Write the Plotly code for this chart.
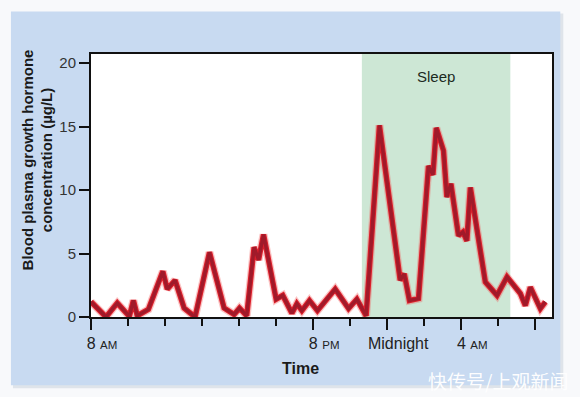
import plotly.graph_objects as go

# ---- data ----
hours_after_8am = [0, 0.81, 1.42, 2.07, 2.29, 2.5, 3.1, 3.88, 4.12, 4.54, 5.03, 5.62, 6.4, 7.19,
                   7.73, 8.02, 8.41, 8.81, 9.05, 9.32, 10.0, 10.36, 10.85, 11.12, 11.39, 11.8,
                   12.23, 13.19, 13.91, 14.36, 14.86, 15.58, 16.7, 16.92, 17.2, 17.69, 18.23,
                   18.47, 18.65, 19.04, 19.22, 19.44, 19.85, 20.09, 20.3, 20.49, 21.3, 21.93,
                   22.47, 23.19, 23.46, 23.73, 24.27, 24.54]
gh_conc = [1.2, 0, 1.1, 0.05, 1.3, 0.1, 0.6, 3.6, 2.2, 2.9, 0.7, 0, 5.1, 0.7,
           0.2, 0.7, 0.1, 5.5, 4.5, 6.5, 1.4, 1.7, 0.3, 1.05, 0.5, 1.3,
           0.5, 2.2, 0.66, 1.4, 0.1, 15.1, 2.9, 3.4, 1.3, 1.45, 11.9,
           11.2, 14.9, 13.1, 9.45, 10.5, 6.4, 6.7, 6.0, 10.2, 2.75, 1.7,
           3.15, 1.85, 0.9, 2.35, 0.66, 1.2]
sleep_start, sleep_end = 14.63, 22.65
x_tickvals = [0, 12, 16, 20, 24]
x_ticktext = ["8 <span style='font-size:11.5px'>AM</span>",
              "8 <span style='font-size:11.5px'>PM</span>",
              "Midnight",
              "4 <span style='font-size:11.5px'>AM</span>",
              ""]
y_tickvals = [0, 5, 10, 15, 20]

FONT = "Liberation Sans, Arial, sans-serif"
W, H = 580, 397
L, R, T, B = 91, 551.7, 53.5, 316.7

def px2paper_x(px):
    return (px - L) / (R - L)

def px2paper_y(py):
    return (B - py) / (B - T)

fig = go.Figure()

# glow / line layers
fig.add_trace(go.Scatter(x=hours_after_8am, y=gh_conc, mode="lines",
                         line=dict(color="rgba(240,90,90,0.35)", width=8),
                         hoverinfo="skip", showlegend=False))
fig.add_trace(go.Scatter(x=hours_after_8am, y=gh_conc, mode="lines",
                         line=dict(color="#dc1f2b", width=5.5),
                         showlegend=False))
fig.add_trace(go.Scatter(x=hours_after_8am, y=gh_conc, mode="lines",
                         line=dict(color="#a01a2a", width=3.4),
                         hoverinfo="skip", showlegend=False))

shapes = [
    # shadow
    dict(type="rect", xref="paper", yref="paper", layer="below",
         x0=px2paper_x(13), x1=px2paper_x(563), y0=px2paper_y(388), y1=px2paper_y(13),
         fillcolor="#dfe4ea", line=dict(width=0)),
    # blue panel
    dict(type="rect", xref="paper", yref="paper", layer="below",
         x0=px2paper_x(11), x1=px2paper_x(560), y0=px2paper_y(385), y1=px2paper_y(11),
         fillcolor="#c8daf1", line=dict(width=0)),
    # white plot area
    dict(type="rect", xref="paper", yref="paper", layer="below",
         x0=0, x1=1, y0=0, y1=1, fillcolor="white", line=dict(width=0)),
    # sleep band
    dict(type="rect", xref="x", yref="paper", layer="below",
         x0=sleep_start, x1=sleep_end, y0=0, y1=1,
         fillcolor="#cde7d5", line=dict(width=0)),
]

annotations = [
    dict(text="Sleep", x=(sleep_start + sleep_end) / 2, xref="x",
         y=px2paper_y(76), yref="paper", showarrow=False,
         font=dict(family=FONT, size=15, color="#1c2a1e"),
         xanchor="center", yanchor="middle"),
    dict(text="<b>Time</b>", x=px2paper_x(300.7), y=px2paper_y(368),
         xref="paper", yref="paper", showarrow=False,
         font=dict(family=FONT, size=16, color="#1a1a1a"),
         xanchor="center", yanchor="middle"),
    dict(text="<b>Blood plasma growth hormone<br>concentration (µg/L)</b>",
         x=px2paper_x(37), y=px2paper_y(159), xref="paper", yref="paper",
         showarrow=False, textangle=-90,
         font=dict(family=FONT, size=15, color="#1a1a1a"),
         xanchor="center", yanchor="middle"),
    dict(text="快传号/上观新闻", x=px2paper_x(426), y=px2paper_y(380),
         xref="paper", yref="paper", showarrow=False,
         font=dict(family="Noto Sans CJK SC", size=19, color="rgba(255,255,255,0.97)"),
         xanchor="left", yanchor="middle"),
]

fig.update_layout(
    width=W, height=H,
    margin=dict(l=L, r=W - R, t=T, b=H - B, pad=0),
    paper_bgcolor="#f8f9fb",
    plot_bgcolor="rgba(0,0,0,0)",
    shapes=shapes,
    annotations=annotations,
    showlegend=False,
    xaxis=dict(range=[0, 24.9], showgrid=False, zeroline=False,
               showline=True, linecolor="#111", linewidth=2, mirror=True,
               ticks="outside", ticklen=11, tickwidth=2, tickcolor="#111",
               tickvals=x_tickvals, ticktext=x_ticktext,
               tickfont=dict(family=FONT, size=16, color="#222"),
               ticklabelshift=11,
               minor=dict(ticks="outside", ticklen=7, tickwidth=2, tickcolor="#111",
                          dtick=2, tick0=0, showgrid=False)),
    yaxis=dict(range=[0, 20.72], showgrid=False, zeroline=False,
               showline=True, linecolor="#111", linewidth=2, mirror=True,
               ticks="outside", ticklen=10, tickwidth=2, tickcolor="#111",
               tickvals=y_tickvals,
               tickfont=dict(family=FONT, size=15, color="#333")),
)

fig.write_html("out.html")
